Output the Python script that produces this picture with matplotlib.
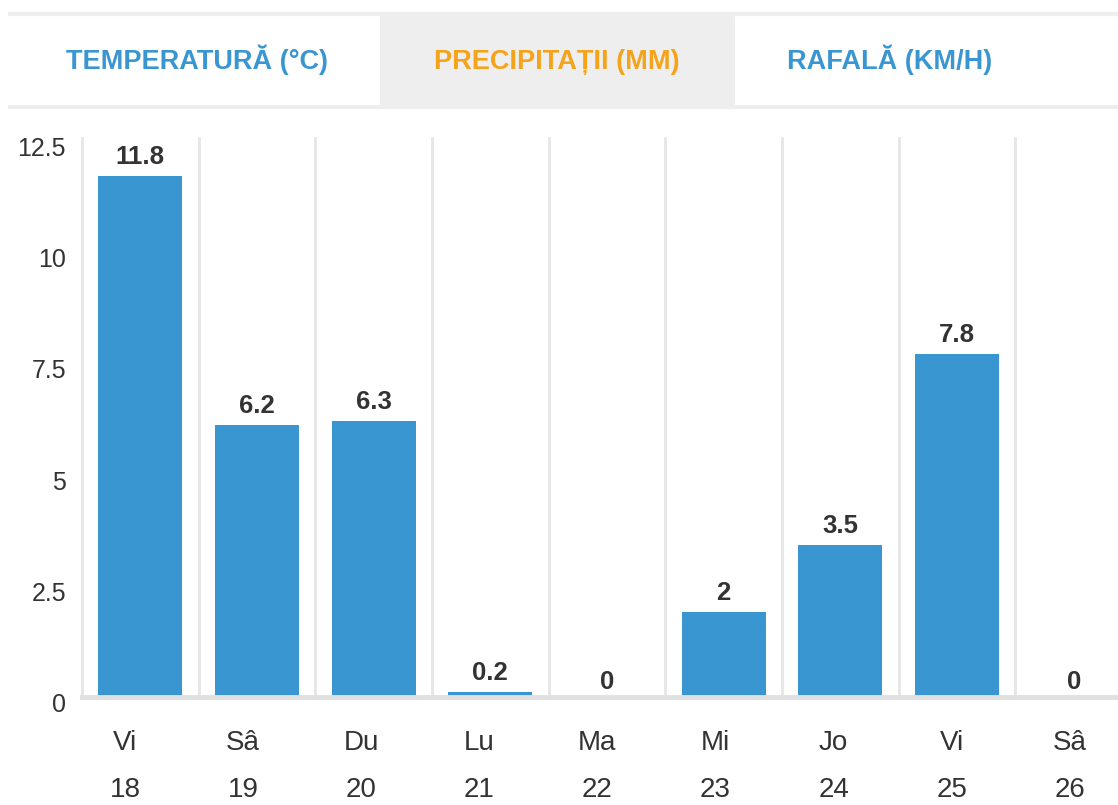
import matplotlib.pyplot as plt
import matplotlib.transforms as mtransforms
from matplotlib.patches import Rectangle

plt.rcParams['font.family'] = ['Liberation Sans', 'DejaVu Sans']

# data
zile = ['Vi', 'Sâ', 'Du', 'Lu', 'Ma', 'Mi', 'Jo', 'Vi', 'Sâ']
date = ['18', '19', '20', '21', '22', '23', '24', '25', '26']
precipitatii = [11.8, 6.2, 6.3, 0.2, 0, 2, 3.5, 7.8, 0]
etichete = ['11.8', '6.2', '6.3', '0.2', '0', '2', '3.5', '7.8', '0']
tab_titluri = ['TEMPERATURĂ (°C)', 'PRECIPITAȚII (MM)', 'RAFALĂ (KM/H)']
y_ticks = [0, 2.5, 5, 7.5, 10, 12.5]
y_tick_lab = ['0', '2.5', '5', '7.5', '10', '12.5']

W, H = 1118, 805
dpi = 100
fig = plt.figure(figsize=(W / dpi, H / dpi), dpi=dpi)
fig.patch.set_facecolor('white')

albastru = '#3a96d0'
portocaliu = '#f5a31a'
text_c = '#333333'
gri = '#e6e6e6'

# tabs
fig.add_artist(Rectangle((380 / W, 1 - 107 / H), 355 / W, 92 / H,
                         transform=fig.transFigure, facecolor='#eeeeee',
                         edgecolor='none'))
fig.add_artist(plt.Line2D([10 / W, 1], [1 - 14 / H, 1 - 14 / H], color='#eeeeee',
                          lw=3, transform=fig.transFigure))
fig.add_artist(plt.Line2D([10 / W, 1], [1 - 107 / H, 1 - 107 / H], color='#eeeeee',
                          lw=3, transform=fig.transFigure))
tab_x = [197, 557, 890]
tab_col = [albastru, portocaliu, albastru]
for t, x, c in zip(tab_titluri, tab_x, tab_col):
    fig.text(x / W, 1 - 69 / H, t, ha='center', va='baseline', fontsize=19.5,
             fontweight='bold', color=c)

# plot area: value 0 sits a few px under the baseline, so the axes start just above it
left, right = 82, 1132
zero_px, top_px, bottom_px = 701, 145, 697
scala = (zero_px - top_px) / 12.5
ax = fig.add_axes([left / W, 1 - bottom_px / H, (right - left) / W,
                   (bottom_px - top_px) / H])
ax.set_facecolor('none')
xs = list(range(len(precipitatii)))
ax.bar(xs, precipitatii, width=0.72, color=albastru, zorder=3)
ax.set_xlim(-0.5, len(xs) - 0.5)
ax.set_ylim((zero_px - bottom_px) / scala, 12.5)

for b in range(len(xs) + 1):
    ax.axvline(b - 0.5, ymax=1.012, color=gri, lw=2, zorder=1, clip_on=False)
ax.axhline(ax.get_ylim()[0], color='#e0e0e0', lw=3.5, zorder=4, clip_on=False)

for s in ax.spines.values():
    s.set_visible(False)

for x, v, e in zip(xs, precipitatii, etichete):
    ax.annotate(e, (x, v), xytext=(0, 5), textcoords='offset points',
                ha='center', va='bottom', fontsize=18.5, fontweight='bold',
                color=text_c, zorder=5, annotation_clip=False)

ax.set_yticks([])
ax.set_xticks([])
ytr = ax.get_yaxis_transform() + mtransforms.ScaledTranslation(
    -16 / dpi, -4 / dpi, fig.dpi_scale_trans)
for v, s in zip(y_ticks, y_tick_lab):
    ax.text(0, v, s, transform=ytr, ha='right', va='center', fontsize=18,
            color=text_c, clip_on=False)

# category labels sit on a slightly wider pitch than the bars
tr = ax.get_xaxis_transform()
hpx = bottom_px - top_px
pas = 118.1 / 116.67
for i, (z, d) in enumerate(zip(zile, date)):
    lx = -0.131 + i * pas
    ax.text(lx, -46 / hpx, z, transform=tr, ha='center', va='center',
            fontsize=20, color=text_c)
    ax.text(lx, -93 / hpx, d, transform=tr, ha='center', va='center',
            fontsize=20, color=text_c)

fig.savefig('out.png', dpi=dpi)
